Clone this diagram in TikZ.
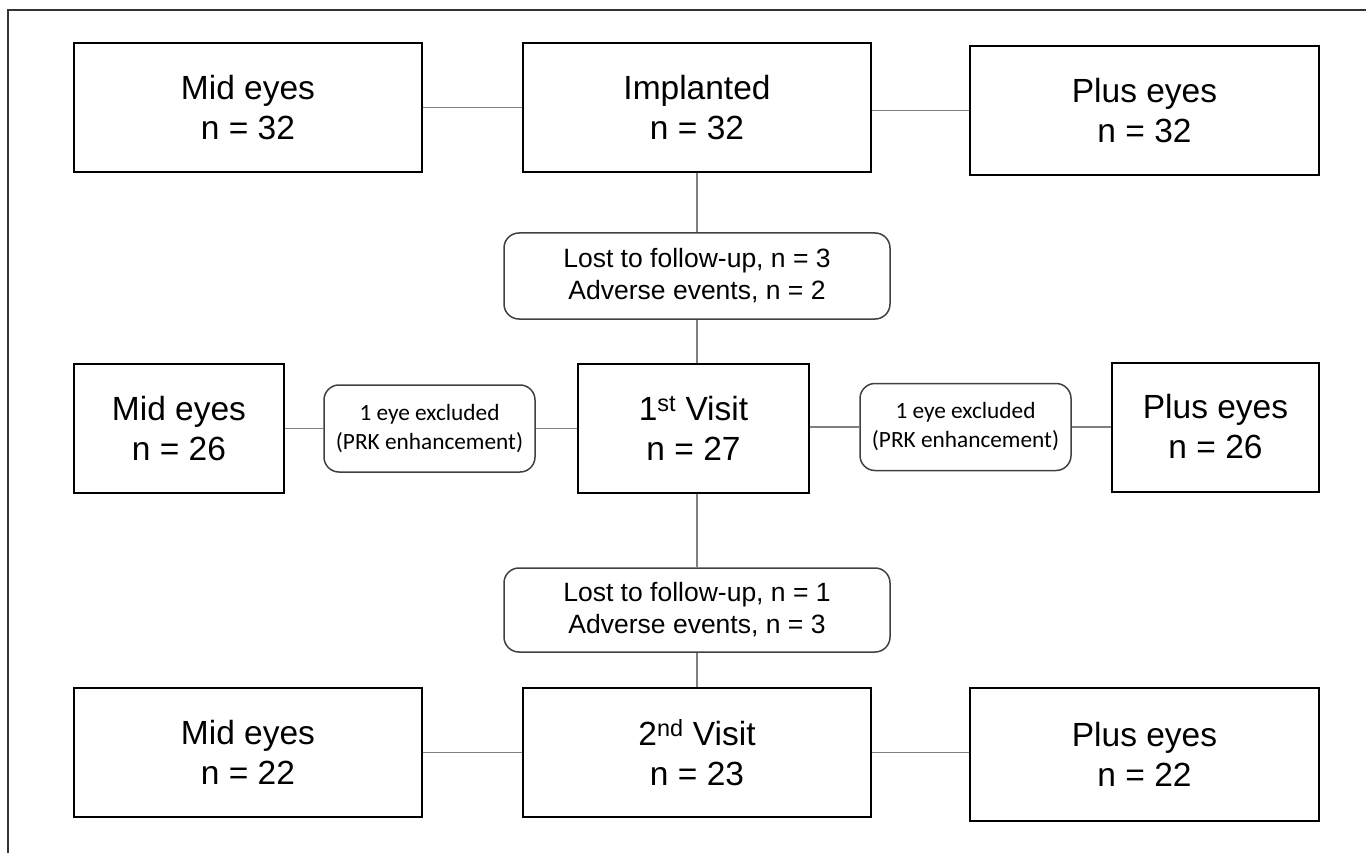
\documentclass[tikz,border=0pt]{standalone}
\usepackage{fontspec}
\setmainfont{Liberation Sans}
\newfontfamily\calfont{Carlito}
\begin{document}
\begin{tikzpicture}[x=1pt,y=-1pt,
  mainbox/.style={draw=black,line width=2pt,fill=white,inner sep=0pt,align=center,
    minimum height=129pt,font=\fontsize{33.5}{40}\selectfont},
  lostbox/.style={draw=black!75,line width=1.5pt,rounded corners=15pt,inner sep=0pt,align=center,
    minimum width=386pt,font=\fontsize{26.5}{32}\selectfont},
  prkbox/.style={draw=black!75,line width=1.5pt,rounded corners=15pt,inner sep=0pt,align=center,
    minimum width=211pt,minimum height=87pt,font=\calfont\fontsize{23.3}{29}\selectfont},
  link/.style={draw=black!50,line width=1.2pt}]
\useasboundingbox (0,0) rectangle (1366,853);
\draw[draw=black!80,line width=1.5pt] (8,853) -- (8,10) -- (1366,10);
% row 1
\node[mainbox,minimum width=348pt] (mid1) at (248,107.5) {Mid eyes\\n = 32};
\node[mainbox,minimum width=348pt] (imp) at (697,107.5) {Implanted\\n = 32};
\node[mainbox,minimum width=349pt] (plus1) at (1144.5,110.5) {Plus eyes\\n = 32};
\node[lostbox,minimum height=86pt] (lost1) at (697,276) {Lost to follow-up, n = 3\\Adverse events, n = 2};
% row 2
\node[mainbox,minimum width=210pt] (mid2) at (179,428.5) {Mid eyes\\n = 26};
\node[prkbox] (prk1) at (429.5,428.5) {1 eye excluded\\(PRK enhancement)};
\node[mainbox,minimum width=231pt] (v1) at (693.5,428.5) {1\textsuperscript{st} Visit\\n = 27};
\node[prkbox] (prk2) at (965.5,427) {1 eye excluded\\(PRK enhancement)};
\node[mainbox,minimum width=207pt] (plus2) at (1215.5,427) {Plus eyes\\n = 26};
\node[lostbox,minimum height=84pt] (lost2) at (697,610) {Lost to follow-up, n = 1\\Adverse events, n = 3};
% row 3
\node[mainbox,minimum width=348pt] (mid3) at (248,752.5) {Mid eyes\\n = 22};
\node[mainbox,minimum width=348pt] (v2) at (697,752.5) {2\textsuperscript{nd} Visit\\n = 23};
\node[mainbox,minimum width=349pt,minimum height=133pt] (plus3) at (1144.5,754.5) {Plus eyes\\n = 22};
% connectors
\draw[link] (mid1.east) -- (imp.west);
\draw[link] (imp.east |- plus1.west) -- (plus1.west);
\draw[link] (imp.south) -- (lost1.north);
\draw[link] (lost1.south) -- (lost1.south |- v1.north);
\draw[link] (prk1.west) -- (prk1.west -| mid2.east);
\draw[link] (prk1.east) -- (prk1.east -| v1.west);
\draw[link] (prk2.west) -- (prk2.west -| v1.east);
\draw[link] (prk2.east) -- (plus2.west);
\draw[link] (lost2.north |- v1.south) -- (lost2.north);
\draw[link] (lost2.south) -- (v2.north);
\draw[link] (mid3.east) -- (v2.west);
\draw[link] (v2.east) -- (v2.east -| plus3.west);
\end{tikzpicture}
\end{document}
